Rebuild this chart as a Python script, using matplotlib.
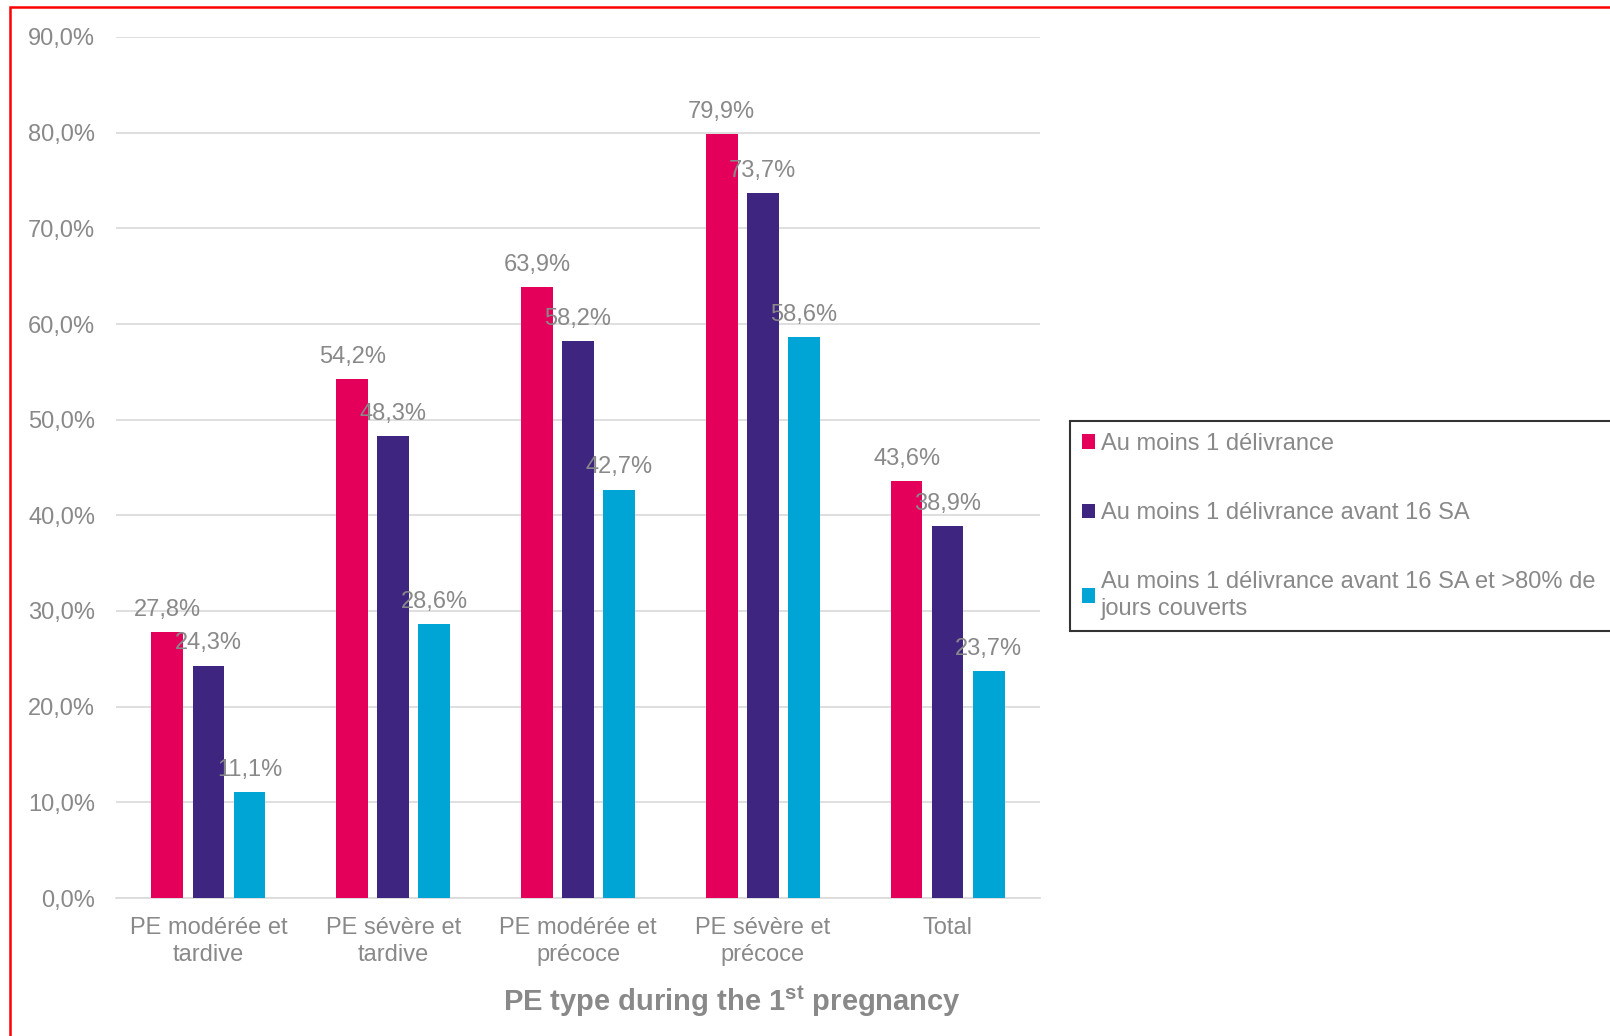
import matplotlib
matplotlib.use("Agg")
import matplotlib.pyplot as plt
from matplotlib.patches import Rectangle
import numpy as np

plt.rcParams['font.family'] = ['Liberation Sans', 'DejaVu Sans']
plt.rcParams['mathtext.fontset'] = 'custom'
plt.rcParams['mathtext.rm'] = 'Liberation Sans'
plt.rcParams['mathtext.bf'] = 'Liberation Sans:bold'

categories = ["PE modérée et\ntardive", "PE sévère et\ntardive", "PE modérée et\nprécoce",
              "PE sévère et\nprécoce", "Total"]
series_names = ["Au moins 1 délivrance",
                "Au moins 1 délivrance avant 16 SA",
                "Au moins 1 délivrance avant 16 SA et >80% de\njours couverts"]
s1 = [27.8, 54.2, 63.9, 79.9, 43.6]
s2 = [24.3, 48.3, 58.2, 73.7, 38.9]
s3 = [11.1, 28.6, 42.7, 58.6, 23.7]
colors = ["#E4005A", "#3D2580", "#00A5D6"]
yticks = [0, 10, 20, 30, 40, 50, 60, 70, 80, 90]

W, H = 1610, 1036
fig = plt.figure(figsize=(W / 100, H / 100), dpi=100)
ax = fig.add_axes([116 / W, 1 - 898 / H, (1040 - 116) / W, (898 - 37) / H])

grey = "#898989"
fs = 17
x = np.arange(len(categories))
width = 0.172
step = 0.222
for i, (vals, c, name) in enumerate(zip([s1, s2, s3], colors, series_names)):
    pos = x + (i - 1) * step
    ax.bar(pos, vals, width=width, color=c, label=name, zorder=3)
    for p, v in zip(pos, vals):
        ax.annotate(f"{v:.1f}%".replace(".", ","), (p, v), xytext=(0, 8),
                    textcoords="offset points", ha="center", va="bottom",
                    fontsize=fs, color=grey, zorder=4)

ax.set_xlim(-0.5, len(categories) - 0.5)
ax.set_ylim(0, 90)
ax.set_yticks(yticks)
ax.set_yticklabels([f"{t:.1f}%".replace(".", ",") for t in yticks])
ax.set_xticks(x)
ax.set_xticklabels(categories, linespacing=1.25)
ax.tick_params(axis='y', length=0, pad=15, labelsize=fs, labelcolor=grey)
ax.tick_params(axis='x', length=0, pad=14, labelsize=fs, labelcolor=grey)
ax.grid(axis='y', color="#d9d9d9", linewidth=1.2, zorder=0)
for s in ["top", "right", "left"]:
    ax.spines[s].set_visible(False)
ax.spines["bottom"].set_color("#d9d9d9")
ax.spines["bottom"].set_linewidth(1.2)

fig.text(732 / W, 1 - 1001 / H, r"PE type during the 1$^{\mathbf{st}}$ pregnancy",
         ha="center", va="center", fontsize=21, fontweight="bold", color=grey)

leg = fig.legend(loc="upper left", bbox_to_anchor=(1070 / W, 1 - 421 / H, 0.5, 0.0),
                 mode="expand",
                 frameon=True, fancybox=False, edgecolor="black", fontsize=fs,
                 labelcolor=grey, handlelength=0.55, handleheight=0.55,
                 handletextpad=0.25, labelspacing=2.0, borderpad=0.5,
                 borderaxespad=0)
leg.get_frame().set_linewidth(1.5)
for t in leg.get_texts():
    t.set_linespacing(1.25)

fig.patches.append(Rectangle((10 / W, -0.1), 1.2, 1 - 7 / H + 0.1,
                             transform=fig.transFigure, fill=False,
                             edgecolor="#FF0000", linewidth=1.8))

fig.savefig("out.png", dpi=100)
